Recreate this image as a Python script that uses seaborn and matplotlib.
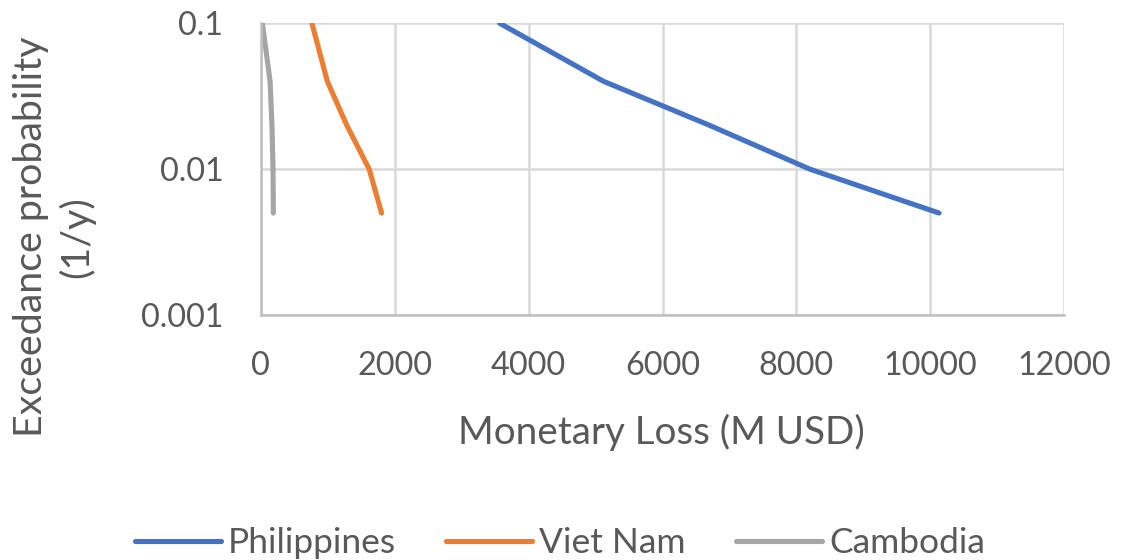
import numpy as np
import pandas as pd
import matplotlib
matplotlib.use("Agg")
import matplotlib.pyplot as plt
import seaborn as sns

# data
prob = [0.1, 0.04, 0.02, 0.01, 0.005]
loss_philippines = [3570, 5120, 6700, 8200, 10130]
loss_vietnam = [765, 995, 1285, 1620, 1805]
loss_cambodia = [25, 140, 168, 184, 189]
countries = ["Philippines", "Viet Nam", "Cambodia"]
colors = ["#4472C4", "#ED7D31", "#A5A5A5"]

df = pd.concat([
    pd.DataFrame({"loss": loss_philippines, "prob": prob, "country": countries[0]}),
    pd.DataFrame({"loss": loss_vietnam, "prob": prob, "country": countries[1]}),
    pd.DataFrame({"loss": loss_cambodia, "prob": prob, "country": countries[2]}),
])

sns.set_theme(style="white")
plt.rcParams["font.family"] = ["Lato", "DejaVu Sans"]
txt = "#595959"

fig = plt.figure(figsize=(11.25, 5.6), dpi=100)
ax = fig.add_axes([260.7 / 1125, 1 - 315 / 560, 803.6 / 1125, (315 - 23.3) / 560])

sns.lineplot(data=df, x="loss", y="prob", hue="country", palette=colors,
             estimator=None, linewidth=3.7, ax=ax, legend=False)
for ln in ax.get_lines():
    ln.set_solid_capstyle("round")
    ln.set_solid_joinstyle("round")

ax.set_yscale("log")
ax.set_ylim(0.001, 0.1)
ax.set_xlim(0, 12000)
ax.set_xticks(np.arange(0, 12001, 2000))
ax.set_yticks([0.001, 0.01, 0.1])
ax.set_yticklabels(["0.001", "0.01", "0.1"])
ax.yaxis.set_minor_locator(matplotlib.ticker.NullLocator())
ax.grid(True, color="#D9D9D9", linewidth=1.8)
ax.set_axisbelow(True)

for s in ["top", "right"]:
    ax.spines[s].set_visible(False)
for s in ["left", "bottom"]:
    ax.spines[s].set_color("#BFBFBF")
    ax.spines[s].set_linewidth(1.8)

ax.tick_params(axis="both", length=0, labelsize=23.3, labelcolor=txt)
ax.tick_params(axis="y", pad=27)
ax.tick_params(axis="x", pad=26)

ax.set_xlabel("")
ax.set_ylabel("")
fig.text(661.5 / 1125, 1 - 432 / 560, "Monetary Loss (M USD)", ha="center",
         va="center", fontsize=27.8, color=txt)
fig.text(54.5 / 1125, 1 - 237 / 560, "Exceedance probability\n(1/y)", ha="center",
         va="center", rotation=90, multialignment="center", fontsize=28.4,
         color=txt, linespacing=1.3)

handles = [plt.Line2D([], [], color=c, linewidth=3.7, solid_capstyle="round")
           for c in colors]
fig.legend(handles, countries, loc="center", bbox_to_anchor=(560 / 1125, 1 - 543 / 560),
           ncol=3, frameon=False, fontsize=25.5, labelcolor=txt,
           handlelength=2.43, handletextpad=0.2, columnspacing=1.41,
           borderpad=0, borderaxespad=0)

fig.savefig("out.png", dpi=100)
